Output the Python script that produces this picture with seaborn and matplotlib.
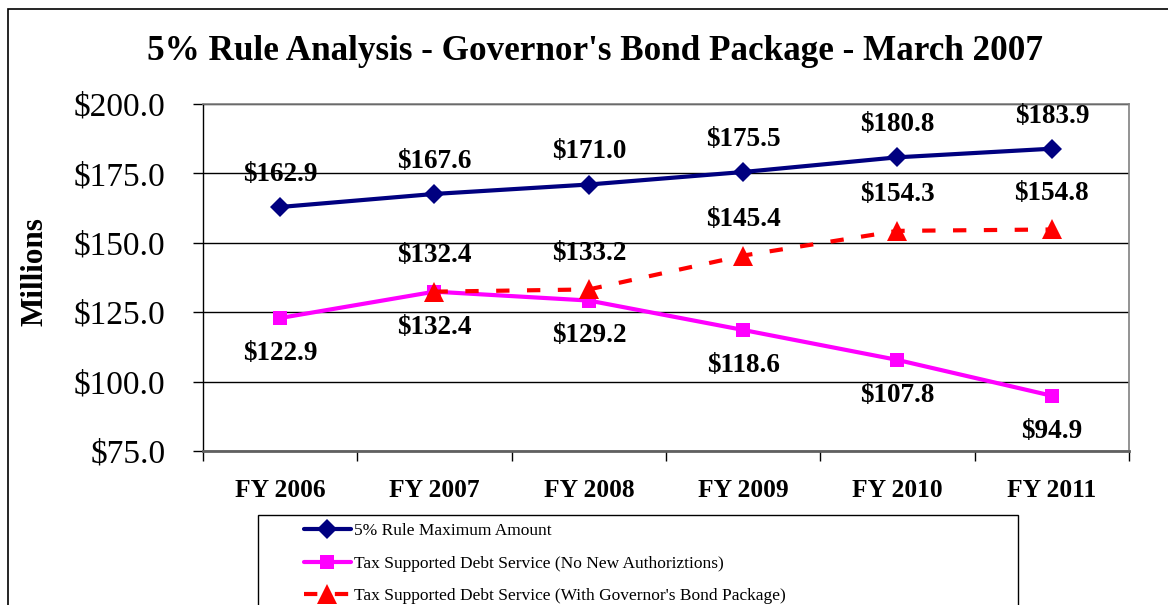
import matplotlib
matplotlib.use("Agg")
import matplotlib.pyplot as plt
import seaborn as sns
import pandas as pd
from matplotlib.patches import Rectangle
from matplotlib.ticker import FuncFormatter, FixedLocator

categories = ["FY 2006", "FY 2007", "FY 2008", "FY 2009", "FY 2010", "FY 2011"]
rule_max = [162.9, 167.6, 171.0, 175.5, 180.8, 183.9]
no_new = [122.9, 132.4, 129.2, 118.6, 107.8, 94.9]
gov_pkg = [None, 132.4, 133.2, 145.4, 154.3, 154.8]
series_names = ["5% Rule Maximum Amount",
                "Tax Supported Debt Service (No New Authoriztions)",
                "Tax Supported Debt Service (With Governor's Bond Package)"]
title = "5% Rule Analysis - Governor's Bond Package - March 2007"
yticks = [75, 100, 125, 150, 175, 200]

sns.set_theme(style="white")
plt.rcParams['font.family'] = ['Liberation Serif', 'DejaVu Serif']
plt.rcParams['text.color'] = 'black'
plt.rcParams['axes.labelcolor'] = 'black'
plt.rcParams['xtick.color'] = 'black'
plt.rcParams['ytick.color'] = 'black'

rows = []
for name, vals in zip(series_names, [rule_max, no_new, gov_pkg]):
    for i, v in enumerate(vals):
        if v is not None:
            rows.append({"idx": i, "value": v, "series": name})
df = pd.DataFrame(rows)

W, H = 1168, 605
fig = plt.figure(figsize=(W / 100, H / 100), dpi=100)
ax = fig.add_axes([203 / W, 1 - 451 / H, (1129 - 203) / W, (451 - 104) / H])

colors = {series_names[0]: "#000080", series_names[1]: "#FF00FF", series_names[2]: "#FF0000"}
markers = {series_names[0]: "D", series_names[1]: "s", series_names[2]: "^"}
msize = {series_names[0]: 10, series_names[1]: 10.5, series_names[2]: 14}

for name in series_names:
    sub = df[df["series"] == name]
    sns.lineplot(data=sub, x="idx", y="value", ax=ax, color=colors[name],
                 marker=markers[name], markersize=msize[name], linewidth=3,
                 markeredgewidth=0, label=name, zorder=3)
    if name == series_names[2]:
        ax.lines[-1].set_linestyle((0, (3.2, 4.2)))

lab_kw = dict(textcoords="offset points", ha="center", va="center",
              fontsize=19.5, fontweight="bold", color="black")
for i, v in enumerate(rule_max):
    ax.annotate(f"${v:.1f}", (i, v), xytext=(0, 23.5), **lab_kw)
for i, v in enumerate(no_new):
    ax.annotate(f"${v:.1f}", (i, v), xytext=(0, -25.5), **lab_kw)
for i, v in enumerate(gov_pkg):
    if v is not None:
        ax.annotate(f"${v:.1f}", (i, v), xytext=(0, 26), **lab_kw)

ax.set_xlim(-0.5, 5.5)
ax.set_ylim(75, 200)
ax.yaxis.set_major_locator(FixedLocator(yticks))
ax.yaxis.set_major_formatter(FuncFormatter(lambda v, p: f"${v:.1f}"))
ax.set_xticks(range(len(categories)))
ax.set_xticklabels(categories, fontsize=18.4, fontweight="bold")
ax.set_xticks([i - 0.5 for i in range(len(categories) + 1)], minor=True)
ax.tick_params(axis="x", which="major", length=0, pad=20, colors="black")
ax.tick_params(axis="x", which="minor", length=7, width=1, color="black", direction="out", bottom=True)
ax.tick_params(axis="y", which="major", length=7, width=1, color="black", direction="out",
               left=True, pad=20, labelsize=24, labelcolor="black")
ax.grid(axis="y", color="black", linewidth=1)
ax.set_axisbelow(True)
for s in ["top", "right"]:
    ax.spines[s].set_color("#808080")
    ax.spines[s].set_linewidth(1.2)
ax.spines["bottom"].set_color("#606060")
ax.spines["bottom"].set_linewidth(2)
ax.spines["left"].set_color("black")
ax.spines["left"].set_linewidth(1)
ax.set_xlabel("")
ax.set_ylabel("")
fig.text(35 / W, 1 - 272 / H, "Millions", rotation=90, ha="center", va="center",
         fontsize=22.4, fontweight="bold")

fig.text(595 / W, 1 - 52 / H, title, ha="center", va="center", fontsize=25.3, fontweight="bold")

# legend (frame drawn separately)
fig.patches.append(Rectangle((258 / W, -0.05), (1018 - 258) / W, 1 - 515 / H + 0.05,
                             transform=fig.transFigure, fill=False, edgecolor="black",
                             linewidth=1, figure=fig))
leg = ax.legend(loc="upper left", bbox_to_anchor=(304 / W, 1 - 523 / H),
                bbox_transform=fig.transFigure, frameon=False,
                fontsize=12.5, handlelength=2.7, handletextpad=0.2, borderpad=0,
                labelspacing=0.95, borderaxespad=0)

fig.patches.append(Rectangle((8 / W, -0.05), 1.1, 1 - 9 / H + 0.05, transform=fig.transFigure,
                             fill=False, edgecolor="black", linewidth=1.2, figure=fig))

fig.savefig("out.png", dpi=100)
